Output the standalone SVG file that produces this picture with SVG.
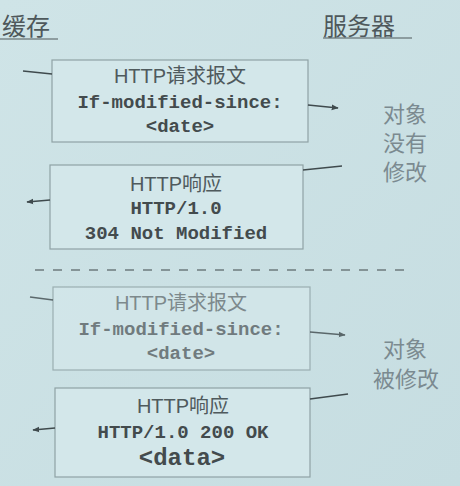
<svg xmlns="http://www.w3.org/2000/svg" width="460" height="486" viewBox="0 0 460 486">
<defs>
<linearGradient id="bg" x1="0" y1="0" x2="1" y2="1">
<stop offset="0" stop-color="#cfe4e7"/>
<stop offset="1" stop-color="#c6dde1"/>
</linearGradient>
<marker id="ah" viewBox="0 0 10 10" refX="9" refY="5" markerWidth="7" markerHeight="7" orient="auto" markerUnits="userSpaceOnUse">
<path d="M0,1 L10,5 L0,9 z" fill="#3f4a4d"/>
</marker>
</defs>
<style>
.box{fill:#d3e7ea;stroke:#8fa2a5;stroke-width:1.2}
.hd{font-family:"Liberation Sans","Noto Sans CJK SC",sans-serif;font-size:20px;fill:#4f5a5d;text-anchor:middle}
.mono{font-family:"Liberation Mono","Courier New",monospace;font-size:19px;font-weight:bold;fill:#434b4d;text-anchor:middle;stroke:#d3e7ea;stroke-width:0.4;paint-order:stroke}
.lt{opacity:0.8}
.title{font-family:"Noto Sans CJK SC",sans-serif;font-size:24px;fill:#4e585b}
.srv{font-family:"Noto Sans CJK SC",sans-serif;font-size:22px;fill:#7b8a90}
.ln{stroke:#3f4a4d;stroke-width:1.6;fill:none}
</style>
<rect width="460" height="486" fill="url(#bg)"/>
<g id="titles">
<text class="title" x="2" y="35">缓存</text>
<line x1="0" y1="39" x2="58" y2="39" stroke="#4e585b" stroke-width="1.2"/>
<text class="title" x="323" y="35">服务器</text>
<line x1="323" y1="38" x2="412" y2="38" stroke="#4e585b" stroke-width="1.2"/>
</g>
<g id="req1">
<rect class="box" x="52" y="60" width="256" height="82"/>
<text class="hd" x="180" y="83">HTTP请求报文</text>
<text class="mono" x="180" y="108">If-modified-since:</text>
<text class="mono" x="180" y="132">&lt;date&gt;</text>
</g>
<g id="resp1">
<rect class="box" x="50" y="165" width="253" height="84"/>
<text class="hd" x="176" y="191">HTTP响应</text>
<text class="mono" x="176" y="214">HTTP/1.0</text>
<text class="mono" x="176" y="239">304 Not Modified</text>
</g>
<g id="note1">
<text class="srv"><tspan x="383" y="122">对象</tspan><tspan x="383" y="151">没有</tspan><tspan x="383" y="180">修改</tspan></text>
</g>
<g id="req2" class="lt">
<rect class="box" x="53" y="287" width="257" height="83"/>
<text class="hd" x="181" y="310" style="fill:#6a7477">HTTP请求报文</text>
<text class="mono" x="181" y="335" style="fill:#5a6265">If-modified-since:</text>
<text class="mono" x="181" y="359" style="fill:#5a6265">&lt;date&gt;</text>
</g>
<g id="resp2">
<rect class="box" x="55" y="388" width="255" height="89"/>
<text class="hd" x="183" y="413">HTTP响应</text>
<text class="mono" x="183" y="438">HTTP/1.0 200 OK</text>
<text class="mono" x="182" y="465" style="font-size:24px">&lt;data&gt;</text>
</g>
<g id="note2">
<text class="srv"><tspan x="383" y="357">对象</tspan><tspan x="373" y="387">被修改</tspan></text>
</g>
<g id="connectors">
<line class="ln" x1="23" y1="71" x2="52" y2="74"/>
<line class="ln" x1="308" y1="105" x2="338" y2="108" marker-end="url(#ah)"/>
<line class="ln" x1="303" y1="170" x2="342" y2="166"/>
<line class="ln" x1="50" y1="200" x2="27" y2="202" marker-end="url(#ah)"/>
<line x1="35" y1="270" x2="410" y2="270" stroke="#6e7b7e" stroke-width="1.4" stroke-dasharray="9,9"/>
<line class="ln" x1="30" y1="297" x2="53" y2="300" opacity="0.8"/>
<line class="ln" x1="310" y1="332" x2="345" y2="335" marker-end="url(#ah)" opacity="0.8"/>
<line class="ln" x1="310" y1="399" x2="348" y2="394"/>
<line class="ln" x1="55" y1="428" x2="33" y2="430" marker-end="url(#ah)"/>
</g>
</svg>
